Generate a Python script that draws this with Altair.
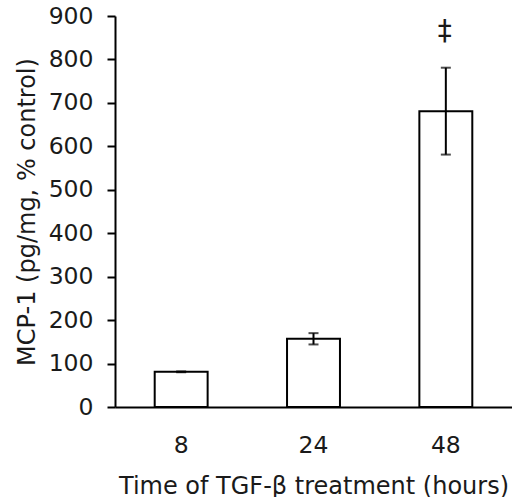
import altair as alt
import pandas as pd

# MCP-1 response after TGF-β treatment, mean ± SEM
hours = ["8", "24", "48"]
mcp1 = [81, 157, 681]
sem = [1, 13, 100]
marks = ["", "", "‡"]

df = pd.DataFrame({"hours": hours, "mcp1": mcp1, "sem": sem, "mark": marks})
df["lo"] = df["mcp1"] - df["sem"]
df["hi"] = df["mcp1"] + df["sem"]

FONT = "DejaVu Sans"
INK = "#1a1a1a"

x = alt.X(
    "hours:N",
    sort=hours,
    scale=alt.Scale(paddingInner=0.6, paddingOuter=0.3),
    axis=alt.Axis(
        title="Time of TGF-β treatment (hours)",
        labelAngle=0,
        ticks=False,
        tickSize=0,
        labelPadding=26,
        titlePadding=18,
    ),
)
y_scale = alt.Scale(domain=[0, 900], nice=False)

bars = alt.Chart(df).mark_bar(
    fill="white", stroke="black", strokeWidth=2
).encode(
    x=x,
    y=alt.Y(
        "mcp1:Q",
        scale=y_scale,
        axis=alt.Axis(
            title="MCP-1 (pg/mg, % control)",
            values=list(range(0, 1000, 100)),
            tickSize=8,
            tickWidth=2,
            tickColor="black",
            labelPadding=14,
            titlePadding=9,
            grid=False,
        ),
    ),
)

err = alt.Chart(df).mark_rule(color="black", strokeWidth=2).encode(
    x=alt.X("hours:N", sort=hours),
    y=alt.Y("lo:Q", scale=y_scale),
    y2="hi:Q",
)
cap_hi = alt.Chart(df).mark_tick(color="black", thickness=2, size=10).encode(
    x=alt.X("hours:N", sort=hours),
    y=alt.Y("hi:Q", scale=y_scale),
)
cap_lo = alt.Chart(df).mark_tick(color="black", thickness=2, size=10).encode(
    x=alt.X("hours:N", sort=hours),
    y=alt.Y("lo:Q", scale=y_scale),
)
sig = alt.Chart(df).transform_filter(alt.datum.mark != "").mark_text(
    font=FONT, fontSize=28, color=INK, baseline="middle", dy=-36, dx=-1
).encode(
    x=alt.X("hours:N", sort=hours),
    y=alt.Y("hi:Q", scale=y_scale),
    text="mark:N",
)

chart = (
    alt.layer(bars, err, cap_hi, cap_lo, sig)
    .properties(
        width=397,
        height=391,
        autosize=alt.AutoSizeParams(type="none"),
        padding={"left": 115, "top": 16, "right": 0, "bottom": 90},
        background="white",
    )
    .configure_view(stroke=None)
    .configure_axis(
        domainColor="black",
        domainWidth=2,
        labelFont=FONT,
        labelFontSize=23.5,
        labelColor=INK,
        titleFont=FONT,
        titleFontSize=24,
        titleFontWeight="normal",
        titleColor=INK,
    )
)

chart.save("out.html", embed_options={"renderer": "svg", "actions": False})
